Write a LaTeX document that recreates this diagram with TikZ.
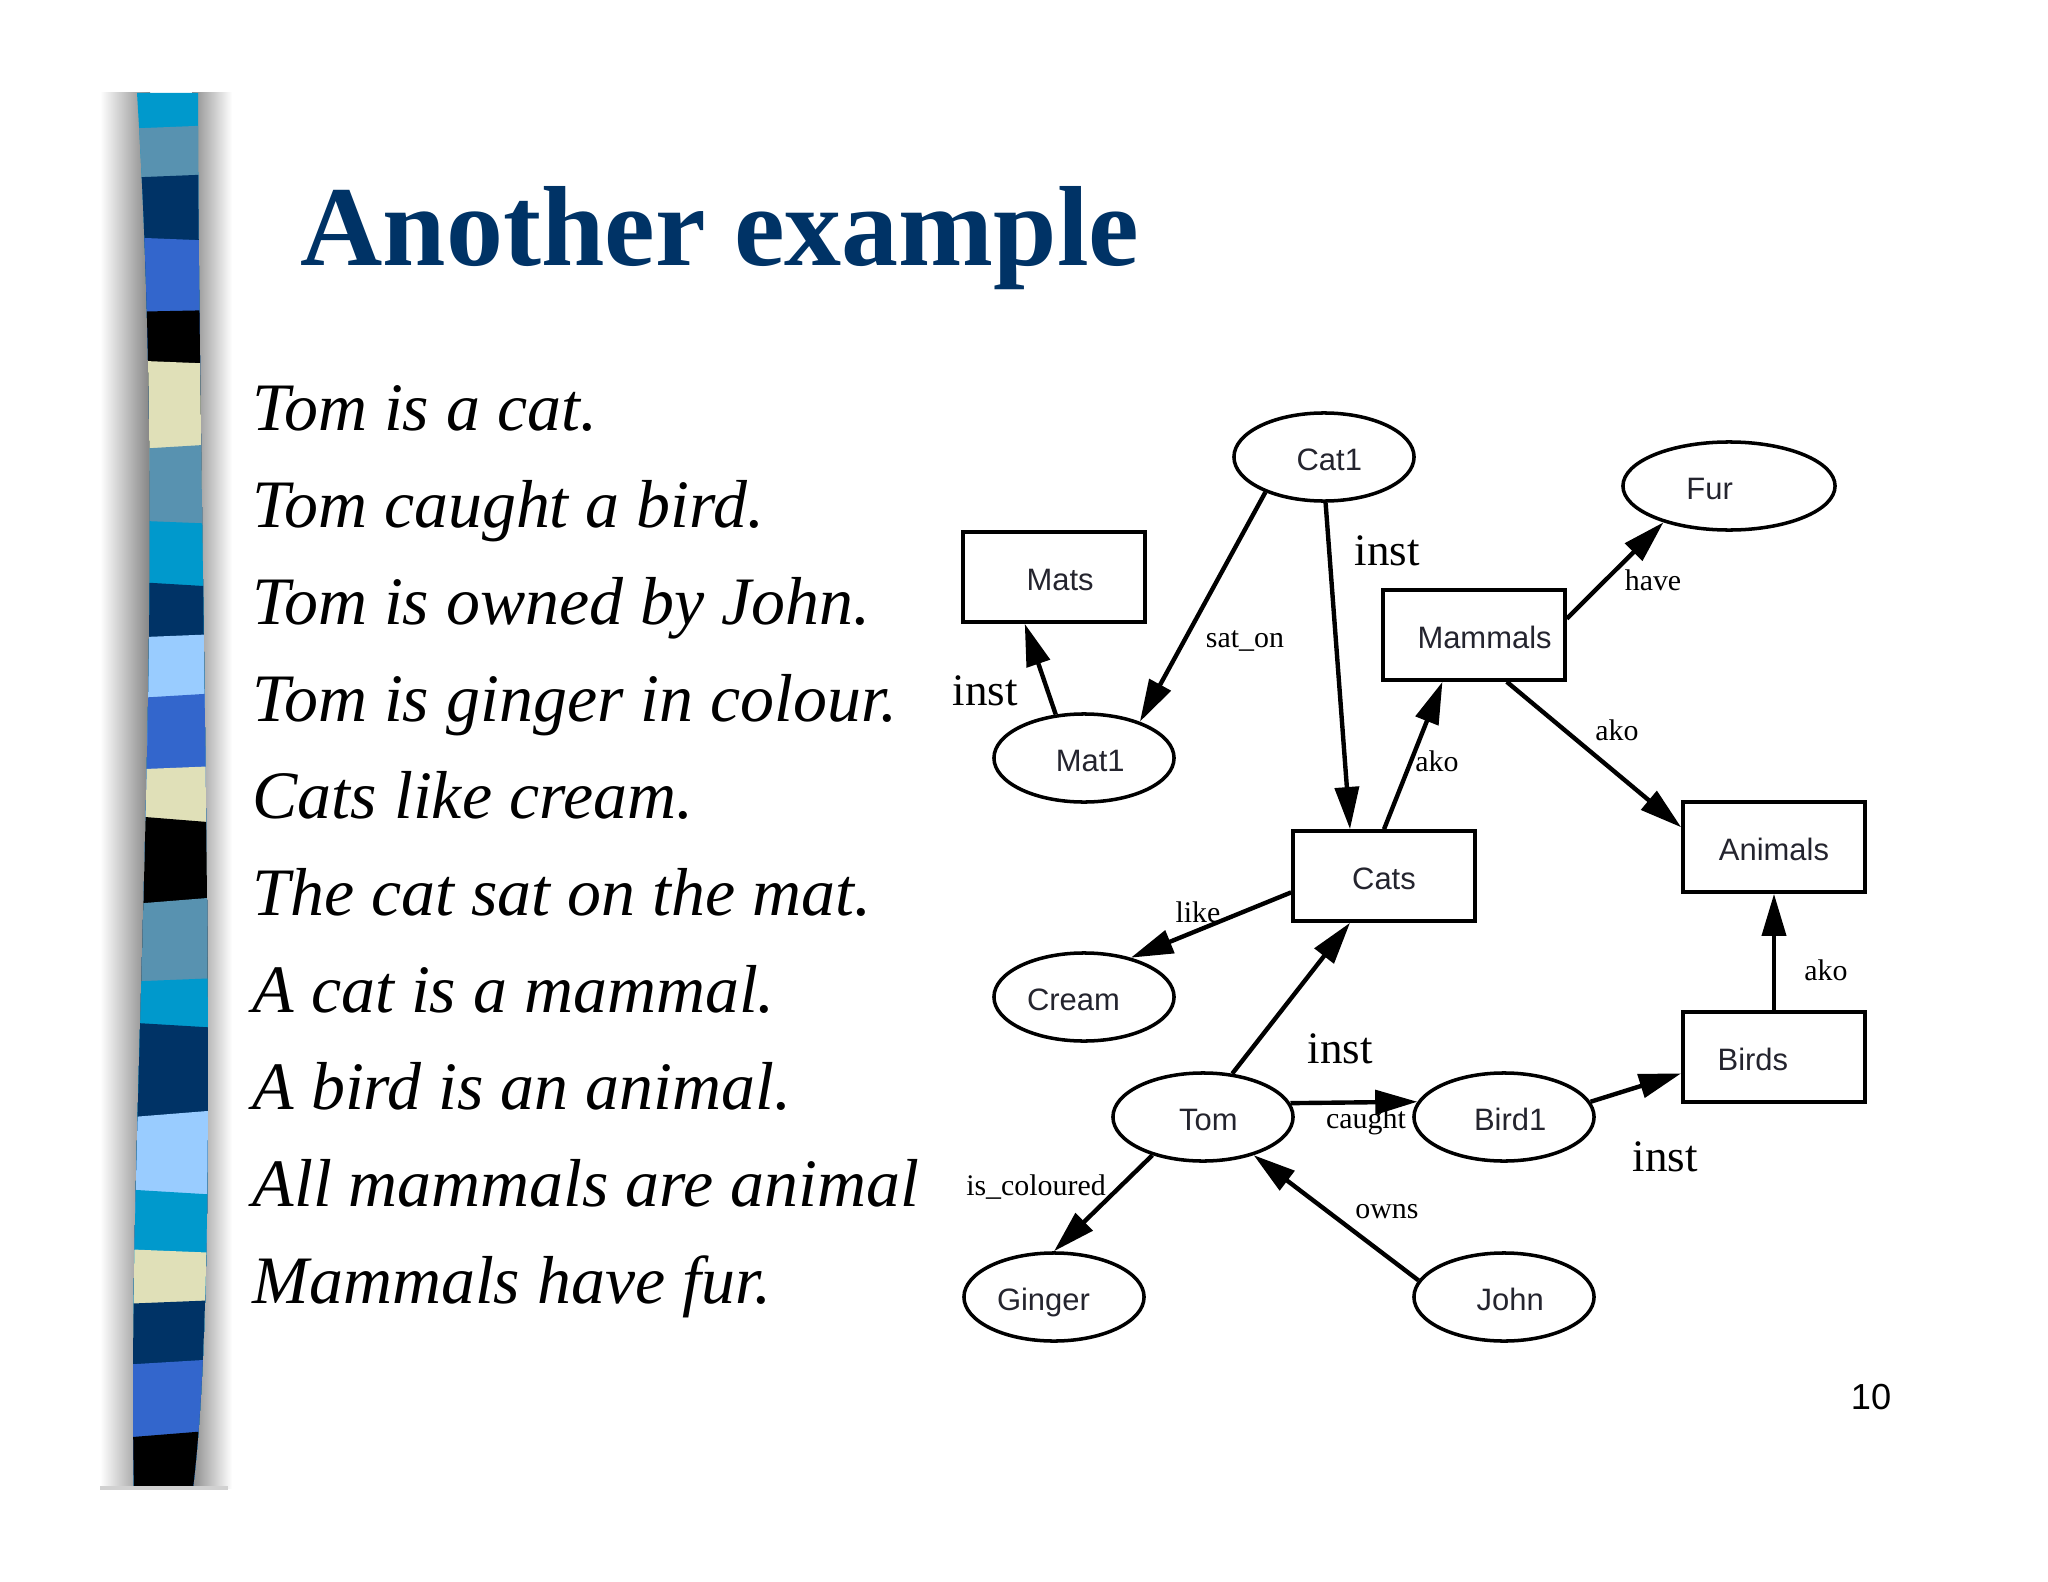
\documentclass[tikz,border=0pt]{standalone}
\usepackage{fontspec}
\setmainfont{Liberation Serif}
\newfontfamily\graphfont{Liberation Sans}
\usetikzlibrary{arrows.meta,shapes.geometric}

\definecolor{titleblue}{RGB}{0,51,102}
\definecolor{barcyan}{RGB}{0,153,204}
\definecolor{barsteel}{RGB}{88,146,176}
\definecolor{barnavy}{RGB}{0,51,102}
\definecolor{barroyal}{RGB}{51,102,204}
\definecolor{barkhaki}{RGB}{224,224,184}
\definecolor{barsky}{RGB}{153,204,255}
\definecolor{nodetext}{RGB}{36,36,46}

\tikzset{
  concept/.style={ellipse, draw, line width=1pt, minimum width=1.8cm,
    minimum height=0.88cm, inner sep=0pt, text=nodetext,
    text height=7.8pt, text depth=0pt,
    font=\graphfont\fontsize{8.8}{10}\selectfont},
  classbox/.style={rectangle, draw, line width=1pt, minimum width=1.82cm,
    minimum height=0.9cm, inner sep=0pt, text=nodetext,
    text height=7.8pt, text depth=0pt,
    font=\graphfont\fontsize{8.8}{10}\selectfont},
  relation/.style={line width=1.25pt, -{Triangle[length=12pt,width=6.8pt]}},
  smalllbl/.style={inner sep=0pt, font=\fontsize{8.5}{10}\selectfont},
  biglbl/.style={inner sep=0pt, font=\fontsize{12.8}{15}\selectfont},
  sentence/.style={anchor=base west, inner sep=0pt,
    font=\itshape\fontsize{19.3}{23}\selectfont}
}

\begin{document}
\begin{tikzpicture}[x=0.01cm,y=-0.01cm]
  \fill[white] (0,0) rectangle (2048,1582);
  \useasboundingbox (0,0) rectangle (2048,1582);

  % shadowed stripe on the left
  \shade[left color=white, right color=black!48] (100,93) rectangle (150,1488);
  \shade[left color=black!45, right color=white] (192,93) rectangle (232,1488);
  \begin{scope}
    \clip (137,93) .. controls (150,300) and (153,520) .. (146,800)
      .. controls (139,1100) and (130,1300) .. (134,1488) -- (193,1488)
      .. controls (206,1380) and (210,1200) .. (207,900)
      .. controls (204,600) and (198,300) .. (198,93) -- cycle;
    \foreach \y/\t/\c in {90/0/barcyan, 127/-2/barsteel, 176/-2/barnavy,
      239/2/barroyal, 311/-1/black, 362/2/barkhaki, 447/-3/barsteel,
      522/2/barcyan, 584/3/barnavy, 636/-2/barsky, 696/-3/barroyal,
      768/-2/barkhaki, 819/4/black, 901/-4/barsteel, 980/-2/barcyan,
      1025/3/barnavy, 1114/-4/barsky, 1192/3/barcyan, 1251/2/barkhaki,
      1302/-2/barnavy, 1362/-3/barroyal, 1434/-4/black}{
      \fill[\c] (120,\y-\t) -- (220,\y+\t) -- (220,1500) -- (120,1500) -- cycle;
    }
  \end{scope}
  \draw[black!18, line width=1pt] (100,1488) -- (228,1488);

  % title and sentences
  \node[anchor=base west, inner sep=0pt, text=titleblue,
    font=\bfseries\fontsize{32.4}{38}\selectfont] (title) at (300,266) {Another example};
  \foreach \s [count=\i from 0] in {Tom is a cat., Tom caught a bird.,
    Tom is owned by John., Tom is ginger in colour., Cats like cream.,
    The cat sat on the mat., A cat is a mammal., A bird is an animal.,
    All mammals are animal, Mammals have fur.}{
    \node[sentence] (line\i) at (252,{430+97*\i}) {\s};
  }

  % semantic net
  \node[concept] (cat1) at (1324,457) {\hspace*{3pt}Cat1};
  \node[concept, minimum width=2.12cm] (fur) at (1729,486) {Fur\hspace*{11pt}};
  \node[classbox] (mats) at (1054,577) {\hspace*{3.5pt}Mats};
  \node[classbox] (mammals) at (1474,635) {\hspace*{6pt}Mammals};
  \node[concept] (mat1) at (1084,758) {\hspace*{3.5pt}Mat1};
  \node[classbox] (cats) at (1384,876) {Cats};
  \node[classbox] (animals) at (1774,847) {Animals};
  \node[concept] (cream) at (1084,997) {Cream\hspace*{6pt}};
  \node[classbox] (birds) at (1774,1057) {Birds\hspace*{12pt}};
  \node[concept] (tom) at (1203,1117) {\hspace*{3pt}Tom};
  \node[concept] (bird1) at (1504,1117) {\hspace*{3.5pt}Bird1};
  \node[concept] (ginger) at (1054,1297) {Ginger\hspace*{6pt}};
  \node[concept] (john) at (1504,1297) {\hspace*{3.5pt}John};

  \draw[relation] (cat1.211) -- (mat1.33);
  \draw[relation] (cat1.272) -- (cats.126);
  \draw[relation] (mat1.123) -- (mats.238);
  \draw[relation] (cats.north) -- (mammals.236);
  \draw[relation] (mammals.10) -- (fur.209);
  \draw[relation] (mammals.305) -- (animals.168);
  \draw[relation] (cats.190) -- (cream.40);
  \draw[relation] (tom.56) -- (cats.234);
  \draw[relation] (tom.9) -- (bird1.170);
  \draw[relation] (bird1.10) -- (birds.190);
  \draw[relation] (birds.north) -- (animals.south);
  \draw[relation] (tom.217) -- (ginger.north);
  \draw[relation] (john.169) -- (tom.323);

  % edge labels
  \node[smalllbl] (lsaton) at (1245,641) {sat\_on};
  \node[biglbl] (linstcat) at (1387,551) {inst};
  \node[biglbl] (linstmat) at (985,691) {inst};
  \node[smalllbl] (lakocats) at (1437,761) {ako};
  \node[smalllbl] (lhave) at (1653,580) {have};
  \node[smalllbl] (lakomam) at (1617,730) {ako};
  \node[smalllbl] (llike) at (1198,912) {like};
  \node[biglbl] (linsttom) at (1340,1049) {inst};
  \node[smalllbl] (lcaught) at (1366,1121) {caught};
  \node[biglbl] (linstbird) at (1665,1157) {inst};
  \node[smalllbl] (lakobird) at (1826,970) {ako};
  \node[smalllbl] (lcolour) at (1036,1187) {is\_coloured};
  \node[smalllbl] (lowns) at (1387,1212) {owns};

  \node[anchor=base, inner sep=0pt,
    font=\graphfont\fontsize{10.3}{12}\selectfont] (pagenum) at (1871,1409) {10};
\end{tikzpicture}
\end{document}
